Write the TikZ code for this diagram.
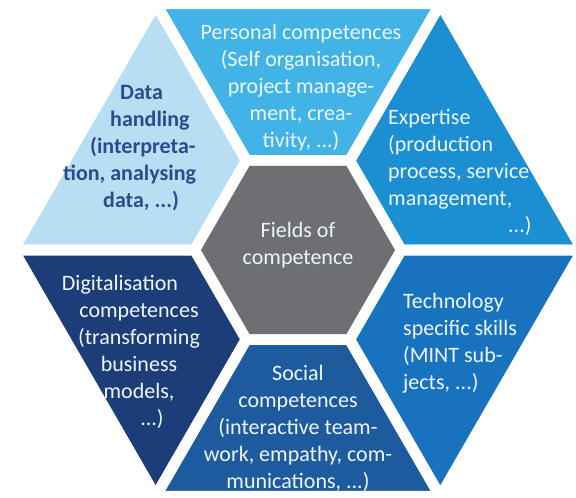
\documentclass[tikz,border=0pt]{standalone}
\usepackage{fontspec}
\setmainfont{Carlito}
\usepackage{xcolor}
\usetikzlibrary{shapes.geometric}

\definecolor{expertblue}{HTML}{1B8FD2}
\definecolor{personalblue}{HTML}{41B3E6}
\definecolor{datablue}{HTML}{B8DEF4}
\definecolor{digitalblue}{HTML}{1C3D78}
\definecolor{socialblue}{HTML}{1E5B9E}
\definecolor{techblue}{HTML}{1872BE}
\definecolor{coregray}{HTML}{6E6F72}
\definecolor{paletext}{HTML}{EEF6FB}
\definecolor{darktext}{HTML}{2C4A8E}

\begin{document}
\begin{tikzpicture}[x=1pt, y=1pt,
    seglabel/.style={font=\fontsize{22}{27}\selectfont, text=paletext, inner sep=0pt},
    core/.style={regular polygon, regular polygon sides=6, minimum size=194pt,
                 inner sep=0pt, fill=coregray}]

        \useasboundingbox (-298,-248) rectangle (278,250);

        % Ring segments, the white stroke leaves the gaps between them
        \foreach \col [count=\i from 0] in {expertblue,personalblue,datablue,digitalblue,socialblue,techblue}
            \filldraw[fill=\col, draw=white, line width=11pt, line join=miter]
                ({60*\i}:284.6) -- ({60*\i+60}:284.6) -- ({60*\i+60}:103.3) -- ({60*\i}:103.3) -- cycle;

        % Centre hexagon
        \node[core] (core) at (0,0) {};
        \node[seglabel, align=center] (fields) at (0,5) {Fields of\\competence};

        % Segment texts
        \node[seglabel, align=center] (personal) at (3,162)
            {Personal competences\\(Self organisation,\\project manage-\\ment, crea-\\tivity, ...)};
        \node[seglabel, align=left, anchor=west, text=darktext, font=\fontsize{22}{27}\selectfont\bfseries] (data) at (-235,102)
            {\hspace*{57pt}Data\\\hspace*{47pt}handling\\\hspace*{27pt}(interpreta-\\tion, analysing\\\hspace*{40pt}data, ...)};
        \node[seglabel, align=left, anchor=west] (expertise) at (90,78)
            {Expertise\\(production\\process, service\\management,\\\hspace*{120pt}...)};
        \node[seglabel, align=left, anchor=west] (technology) at (105,-93.5)
            {Technology\\specific skills\\(MINT sub-\\jects, ...)};
        \node[seglabel, align=center] (social) at (0,-178)
            {Social\\competences\\(interactive team-\\work, empathy, com-\\munications, ...)};
        \node[seglabel, align=center] (digital) at (-159,-101.5)
            {Digitalisation\hspace*{38pt}\\competences\\(transforming\\business\\models,\\\hspace*{26pt}...)};

    \end{tikzpicture}
\end{document}
